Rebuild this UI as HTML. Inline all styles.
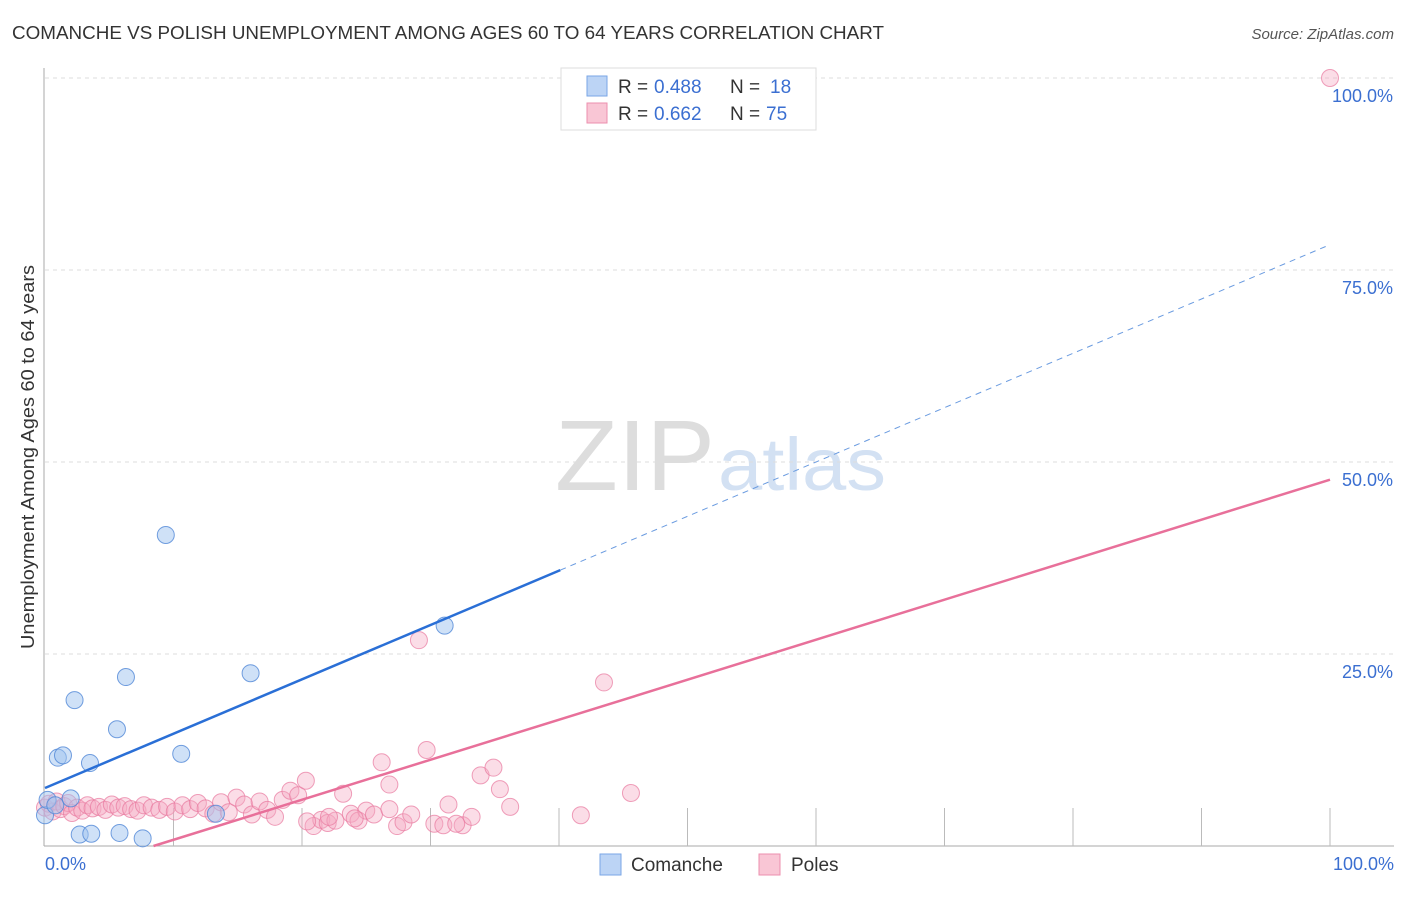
<!DOCTYPE html>
<html><head><meta charset="utf-8"><style>
body{margin:0;background:#fff;font-family:"Liberation Sans",sans-serif;}
svg text{font-family:"Liberation Sans",sans-serif;}
</style></head><body>
<svg width="1406" height="892" xmlns="http://www.w3.org/2000/svg">
<text x="12" y="39" font-size="18" fill="#333" textLength="872" lengthAdjust="spacingAndGlyphs">COMANCHE VS POLISH UNEMPLOYMENT AMONG AGES 60 TO 64 YEARS CORRELATION CHART</text>
<text x="1394" y="39" font-size="15" fill="#555" font-style="italic" text-anchor="end">Source: ZipAtlas.com</text>
<text x="635" y="490" font-size="100" fill="#dddddd" text-anchor="middle" font-family="Liberation Serif" textLength="160" lengthAdjust="spacingAndGlyphs">ZIP</text>
<text x="718" y="490" font-size="74" fill="#d3e1f3" textLength="168" lengthAdjust="spacingAndGlyphs">atlas</text>
<text transform="translate(34,457) rotate(-90)" font-size="18" fill="#333" text-anchor="middle" textLength="384" lengthAdjust="spacingAndGlyphs">Unemployment Among Ages 60 to 64 years</text>
<g id="grid"></g><g id="pts"></g><g id="lines"></g>
<g>
<rect x="561" y="68" width="255" height="62" fill="#fff" stroke="#ddd"/>
<rect x="587" y="76" width="20" height="20" fill="#bcd4f5" stroke="#7aa6e6"/>
<rect x="587" y="103" width="20" height="20" fill="#f9c6d5" stroke="#ec8fae"/>
<text x="618" y="93" font-size="19" fill="#333">R = </text><text x="654" y="93" font-size="19" fill="#3b6fd1">0.488</text>
<text x="730" y="93" font-size="19" fill="#333">N = </text><text x="770" y="93" font-size="19" fill="#3b6fd1">18</text>
<text x="618" y="120" font-size="19" fill="#333">R = </text><text x="654" y="120" font-size="19" fill="#3b6fd1">0.662</text>
<text x="730" y="120" font-size="19" fill="#333">N = </text><text x="766" y="120" font-size="19" fill="#3b6fd1">75</text>
</g>
<g>
<rect x="600" y="854" width="21" height="21" fill="#bcd4f5" stroke="#7aa6e6"/>
<text x="631" y="871" font-size="19" fill="#333">Comanche</text>
<rect x="759" y="854" width="21" height="21" fill="#f9c6d5" stroke="#ec8fae"/>
<text x="791" y="871" font-size="19" fill="#333">Poles</text>
</g>
<text x="45" y="870" font-size="18" fill="#3b6fd1">0.0%</text>
<text x="1394" y="870" font-size="18" fill="#3b6fd1" text-anchor="end">100.0%</text>
</svg>
<script>
const yTicks=[25,50,75,100];
const yTickLabels=["25.0%","50.0%","75.0%","100.0%"];
const comancheX=[0,0.2,0.8,1.0,1.4,2.0,2.3,2.7,3.5,3.6,5.6,5.8,6.3,7.6,9.4,10.6,13.3,16.0,31.1];
const comancheY=[4.0,6.0,5.3,11.5,11.8,6.2,19.0,1.5,10.8,1.6,15.2,1.7,22.0,1.0,40.5,12.0,4.2,22.5,28.7];
const polesX=[0,0.3,0.6,0.9,1.2,1.5,1.8,2.1,2.5,2.9,3.3,3.7,4.2,4.7,5.2,5.7,6.2,6.7,7.2,7.7,8.3,8.9,9.5,10.1,10.7,11.3,11.9,12.5,13.1,13.7,14.3,14.9,15.5,16.1,16.7,17.3,17.9,18.5,19.1,19.7,20.3,20.9,21.5,22.0,22.6,23.2,23.8,24.4,25.0,25.6,26.2,26.8,27.4,27.9,28.5,29.1,29.7,30.3,31.0,31.4,32.5,33.2,33.9,34.9,35.4,36.2,41.7,43.5,45.6,100,22.1,20.4,24.1,26.8,32.0];
const polesY=[5.0,5.5,4.5,5.8,4.8,5.2,5.6,4.3,5.0,4.6,5.3,4.9,5.1,4.7,5.4,5.0,5.2,4.8,4.6,5.3,5.0,4.7,5.1,4.5,5.3,4.8,5.6,4.9,4.2,5.7,4.4,6.3,5.4,4.1,5.8,4.7,3.8,6.0,7.2,6.6,8.5,2.6,3.4,3.0,3.3,6.8,4.2,3.3,4.6,4.1,10.9,8.0,2.6,3.1,4.1,26.8,12.5,2.9,2.7,5.4,2.7,3.8,9.2,10.2,7.4,5.1,4.0,21.3,6.9,100,3.8,3.2,3.6,4.8,2.9];
const blueLine=[7.55,78.3], blueSolidEnd=40.1;
const pinkLine=[-4.4,47.7];
const X=v=>45+v*12.85, Y=v=>846-v*7.68;
const ns="http://www.w3.org/2000/svg";
function mk(tag,attrs,parent){const e=document.createElementNS(ns,tag);for(const k in attrs)e.setAttribute(k,attrs[k]);parent.appendChild(e);return e;}
const grid=document.getElementById('grid');
yTicks.forEach((t,i)=>{
 const l=mk('line',{x1:45,x2:1394,y1:Y(t),y2:Y(t),stroke:'#ddd','stroke-dasharray':'4,4'},grid);
 
 
 const tx=mk('text',{x:1393,y:Y(t)+24,'font-size':18,fill:'#3b6fd1','text-anchor':'end'},grid);
 tx.textContent=yTickLabels[i];
 
 
});
const ax=mk('line',{x1:44,x2:44,y1:68,y2:846,stroke:'#aaa'},grid);


const bx=mk('line',{x1:44,x2:1394,y1:846,y2:846,stroke:'#aaa'},grid);


for(let i=1;i<=10;i++){const t=mk('line',{x1:X(i*10),x2:X(i*10),y1:808,y2:846,stroke:'#bbb'},grid);
 
 }
const pts=document.getElementById('pts');
polesX.forEach((x,i)=>{const c=mk('circle',{cx:X(x),cy:Y(polesY[i]),r:8.5,fill:'rgba(246,170,195,0.4)',stroke:'rgba(232,120,158,0.7)','stroke-width':1},pts);
 
 });
comancheX.forEach((x,i)=>{const c=mk('circle',{cx:X(x),cy:Y(comancheY[i]),r:8.5,fill:'rgba(160,195,240,0.5)',stroke:'rgba(80,135,215,0.8)','stroke-width':1},pts);
 
 });
const lines=document.getElementById('lines');
const bl=x=>blueLine[0]+(blueLine[1]-blueLine[0])*x/100;
const b1=mk('line',{x1:X(0),y1:Y(bl(0)),x2:X(blueSolidEnd),y2:Y(bl(blueSolidEnd)),stroke:'#2a6fd6','stroke-width':2.5},lines);


const b2=mk('line',{x1:X(blueSolidEnd),y1:Y(bl(blueSolidEnd)),x2:X(100),y2:Y(bl(100)),stroke:'#6a9be0','stroke-width':1,'stroke-dasharray':'6,5'},lines);


const pl=x=>pinkLine[0]+(pinkLine[1]-pinkLine[0])*x/100;
const x0=-pinkLine[0]*100/(pinkLine[1]-pinkLine[0]);
const p1=mk('line',{x1:X(x0),y1:Y(0),x2:X(100),y2:Y(pl(100)),stroke:'#e8709a','stroke-width':2.5},lines);


</script>
</body></html>
